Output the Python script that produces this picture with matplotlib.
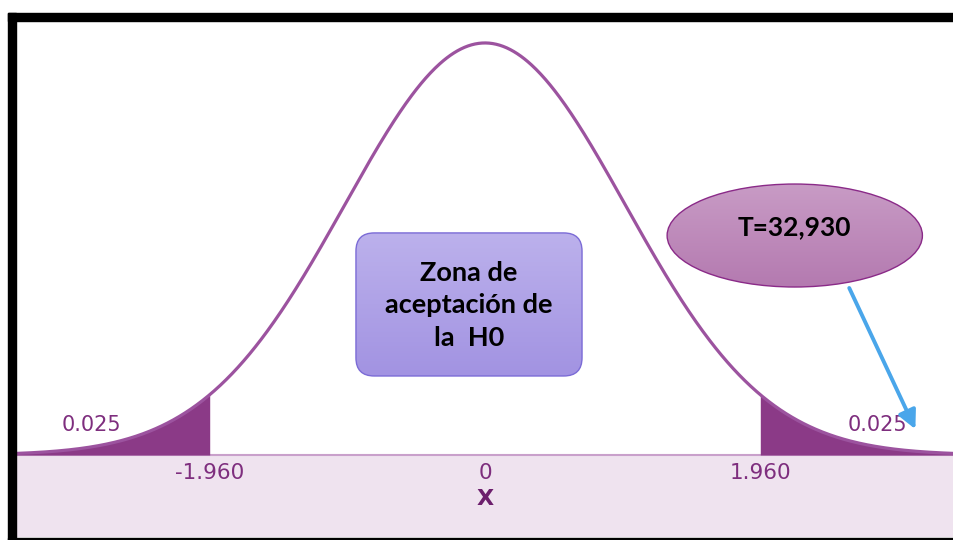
import numpy as np
import matplotlib
matplotlib.use('Agg')
import matplotlib.pyplot as plt
from matplotlib.patches import FancyBboxPatch, Ellipse, Rectangle
from matplotlib.colors import LinearSegmentedColormap

# parametros de la distribucion normal estandar
mu = 0.0
sigma = 1.0
z_crit = [-1.960, 1.960]
alpha_half = [0.025, 0.025]
tick_vals = [-1.960, 0, 1.960]
tick_labels = ['-1.960', '0', '1.960']
t_stat_label = 'T=32,930'
zona_label = 'Zona de\naceptación de\nla  H0'
x_range = [-3.34, 3.34]

# curva normal (densidad teorica)
xs = np.linspace(x_range[0], x_range[1], 800)
ys = np.exp(-0.5 * ((xs - mu) / sigma) ** 2) / (sigma * np.sqrt(2 * np.pi))

fig = plt.figure(figsize=(9.54, 5.4), dpi=100)
ax = fig.add_axes([16 / 954, 3 / 540, 938 / 954, 516 / 540])
ax.set_axis_off()

y_bottom = -0.0794
y_top = 0.4202

# banda del eje x
ax.axhspan(y_bottom, 0, color='#efe3ef', zorder=0)
ax.axhline(0, color='#c9a0cb', linewidth=1.5, zorder=1)

# colas sombreadas
left_mask = xs <= z_crit[0]
right_mask = xs >= z_crit[1]
ax.fill_between(xs[left_mask], 0, ys[left_mask], color='#8b3a87', zorder=2, linewidth=0)
ax.fill_between(xs[right_mask], 0, ys[right_mask], color='#8b3a87', zorder=2, linewidth=0)

ax.plot(xs, ys, color='#9c539f', linewidth=2.3, zorder=3)

# etiquetas del eje
for v, lab in zip(tick_vals, tick_labels):
    ax.text(v, -0.0170, lab, ha='center', va='center', fontsize=15.5,
            color='#7e2e7e', family='DejaVu Sans')
ax.text(0, -0.0425, 'X', ha='center', va='center', fontsize=16,
        color='#6d1f6d', family='DejaVu Sans', fontweight='bold')

# probabilidades en las colas
ax.text(-2.80, 0.029, f'{alpha_half[0]:.3f}', ha='center', va='center',
        fontsize=15, color='#7e2e7e', family='DejaVu Sans')
ax.text(2.794, 0.029, f'{alpha_half[1]:.3f}', ha='center', va='center',
        fontsize=15, color='#7e2e7e', family='DejaVu Sans', zorder=5)

# caja "Zona de aceptacion" con degradado
px_per_x = 140.3
px_per_y = 1032.8
aspect = px_per_x / px_per_y
bx0, bx1 = -0.919, 0.691
by0, by1 = 0.0765, 0.215
box = FancyBboxPatch((bx0, by0), bx1 - bx0, by1 - by0,
                     boxstyle='round,pad=0,rounding_size=0.13',
                     mutation_aspect=aspect, facecolor='none',
                     edgecolor='#7b6bd6', linewidth=1.0, zorder=6)
ax.add_patch(box)
grad_box = LinearSegmentedColormap.from_list('box', ['#a293e2', '#bcb1ec'])
img = ax.imshow(np.linspace(0, 1, 100).reshape(-1, 1), cmap=grad_box,
                extent=[bx0, bx1, by0, by1], origin='lower', aspect='auto', zorder=5)
img.set_clip_path(box)
ax.text((bx0 + bx1) / 2, (by0 + by1) / 2 - 0.001, zona_label, ha='center', va='center',
        fontsize=19.5, fontweight='bold', family='Lato', color='black',
        linespacing=1.42, zorder=7)

# elipse con el estadistico
ex, ey, ew, eh = 2.206, 0.2125, 1.818, 0.0997
ell = Ellipse((ex, ey), ew, eh, facecolor='none', edgecolor='#8a2a88',
              linewidth=1.0, zorder=6)
ax.add_patch(ell)
grad_ell = LinearSegmentedColormap.from_list('ell', ['#b47ab0', '#c89bc5'])
img2 = ax.imshow(np.linspace(0, 1, 100).reshape(-1, 1), cmap=grad_ell,
                 extent=[ex - ew / 2, ex + ew / 2, ey - eh / 2, ey + eh / 2],
                 origin='lower', aspect='auto', zorder=5)
img2.set_clip_path(ell)
ax.text(ex, ey + 0.008, t_stat_label, ha='center', va='center', fontsize=19,
        fontweight='bold', family='Lato', color='black', zorder=7)

# flecha
ax.annotate('', xy=(3.065, 0.025), xytext=(2.594, 0.1617),
            arrowprops=dict(arrowstyle='-|>,head_length=1.1,head_width=0.55',
                            color='#4aa6ea', linewidth=2.8, shrinkA=0, shrinkB=0),
            zorder=8)

ax.set_xlim(x_range)
ax.set_ylim(y_bottom, y_top)

# marco negro
fig.add_artist(Rectangle((8 / 954, 519 / 540), 1 - 8 / 954, 8 / 540,
                         transform=fig.transFigure, color='black'))
fig.add_artist(Rectangle((8 / 954, 0), 8 / 954, 527 / 540,
                         transform=fig.transFigure, color='black'))
fig.add_artist(Rectangle((8 / 954, 0), 1 - 8 / 954, 2.5 / 540,
                         transform=fig.transFigure, color='black'))

fig.savefig('out.png', dpi=100)
